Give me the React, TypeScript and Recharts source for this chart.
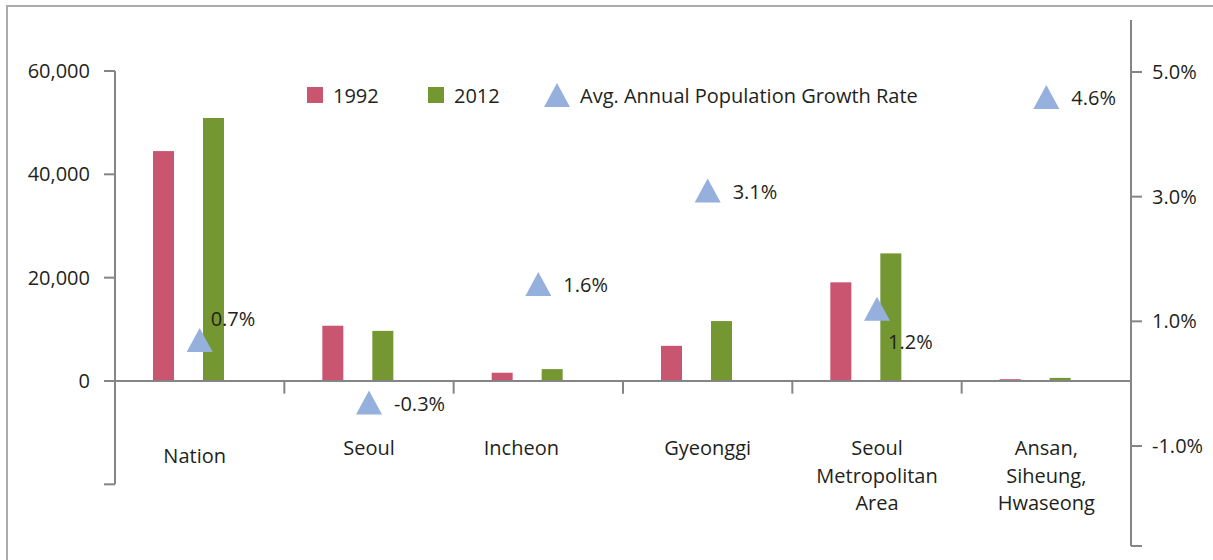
import React from "react";
import { ComposedChart, Bar, Scatter, XAxis, YAxis, ReferenceLine } from "recharts";

// values (population in thousands, growth in %)
const categories = [
  "Nation",
  "Seoul",
  "Incheon",
  "Gyeonggi",
  "Seoul\nMetropolitan\nArea",
  "Ansan,\nSiheung,\nHwaseong",
];
const pop1992 = [44500, 10700, 1600, 6800, 19100, 350];
const pop2012 = [50900, 9700, 2300, 11600, 24700, 600];
const growthRate = [0.7, -0.3, 1.6, 3.1, 1.2, 4.6];
const leftTicks = [-20000, 0, 20000, 40000, 60000];
const rightTicks = [-1, 1, 3, 5];
const seriesNames = ["1992", "2012", "Avg. Annual Population Growth Rate"];

const FONT = '"Open Sans", sans-serif';
const TEXT = "#231f20";
const AXIS = "#858585";
const PINK = "#c95571";
const GREEN = "#749732";
const BLUE = "#95b0dc";
const FS = 20;

// both axes share the plot height, so domains are stretched to line up zero
const LEFT_DOMAIN: [number, number] = [-31935, 69870];
const RIGHT_DOMAIN: [number, number] = [-2.604, 5.834];

const data = categories.map((name, i) => ({
  name,
  p1992: pop1992[i],
  p2012: pop2012[i],
  rate: growthRate[i],
  zero: 0,
}));

// bars sit a bit left of the category centre in the original
const ShiftedBar = (props: any) => {
  const { x, y, width, height, fill } = props;
  return <rect x={x - 11} y={y} width={width} height={height} fill={fill} />;
};

const trianglePoints = (cx: number, cy: number) =>
  `${cx},${cy - 12} ${cx - 13},${cy + 12} ${cx + 13},${cy + 12}`;

const RateMarker = (props: any) => {
  const { cx, cy, payload } = props;
  const label = `${payload.rate.toFixed(1)}%`;
  let lx = cx + 25;
  let ly = cy + 1;
  if (payload.name === "Nation") {
    lx = cx + 11;
    ly = cy - 22;
  } else if (payload.name.startsWith("Seoul\n")) {
    lx = cx + 11;
    ly = cy + 33;
  }
  return (
    <g>
      <polygon points={trianglePoints(cx, cy)} fill={BLUE} />
      <text
        x={lx}
        y={ly}
        fill={TEXT}
        fontSize={FS}
        fontFamily={FONT}
        dominantBaseline="central"
      >
        {label}
      </text>
    </g>
  );
};

// a couple of labels are set off-centre in the original
const labelNudge: Record<string, [number, number]> = {
  Nation: [-5, 8],
  Incheon: [-17, 0],
};

const CategoryLabel = (props: any) => {
  const { cx, cy, payload } = props;
  const lines = String(payload.name).split("\n");
  const [nx, ny] = labelNudge[payload.name] ?? [0, 0];
  return (
    <text
      textAnchor="middle"
      fill={TEXT}
      fontSize={FS}
      fontFamily={FONT}
      dominantBaseline="central"
    >
      {lines.map((line, i) => (
        <tspan key={i} x={cx + nx} y={cy + 66 + ny + i * 27.5}>
          {line}
        </tspan>
      ))}
    </text>
  );
};

function LegendBox() {
  const item: React.CSSProperties = {
    display: "flex",
    alignItems: "center",
    gap: 10,
  };
  return (
    <div
      style={{
        position: "absolute",
        left: 307,
        top: 82,
        height: 26,
        display: "flex",
        alignItems: "center",
        fontFamily: FONT,
        fontSize: FS,
        color: TEXT,
        whiteSpace: "nowrap",
      }}
    >
      <div style={{ ...item, width: 121 }}>
        <span style={{ width: 16, height: 16, background: PINK }} />
        <span>{seriesNames[0]}</span>
      </div>
      <div style={{ ...item, width: 116 }}>
        <span style={{ width: 16, height: 16, background: GREEN }} />
        <span>{seriesNames[1]}</span>
      </div>
      <div style={item}>
        <svg width={26} height={24}>
          <polygon points={trianglePoints(13, 12)} fill={BLUE} />
        </svg>
        <span>{seriesNames[2]}</span>
      </div>
    </div>
  );
}

export default function App() {
  const tickStyle = { fill: TEXT, fontSize: FS, fontFamily: FONT };
  return (
    <div
      style={{
        position: "absolute",
        left: 0,
        top: 0,
        width: 1213,
        height: 560,
        overflow: "hidden",
        background: "#fff",
      }}
    >
      {/* frame of the original figure */}
      <div
        style={{
          position: "absolute",
          left: 6,
          top: 5,
          width: 1230,
          height: 580,
          borderLeft: "2px solid #ababab",
          borderTop: "2px solid #ababab",
        }}
      />
      <ComposedChart
        width={1213}
        height={560}
        data={data}
        margin={{ top: 20, right: 0, bottom: 14, left: 15 }}
        barSize={21}
        barGap={29}
      >
        <XAxis dataKey="name" hide />
        <YAxis
          yAxisId="left"
          type="number"
          width={100}
          domain={LEFT_DOMAIN}
          ticks={leftTicks}
          interval={0}
          axisLine={false}
          tickLine={{ stroke: AXIS, strokeWidth: 2 }}
          tickSize={11}
          tickMargin={14}
          tick={tickStyle}
          tickFormatter={(v: number) => (v < 0 ? "" : v.toLocaleString("en-US"))}
        />
        <YAxis
          yAxisId="right"
          orientation="right"
          type="number"
          width={82}
          domain={RIGHT_DOMAIN}
          ticks={[RIGHT_DOMAIN[0], ...rightTicks]}
          interval={0}
          axisLine={{ stroke: AXIS, strokeWidth: 2 }}
          tickLine={{ stroke: AXIS, strokeWidth: 2 }}
          tickSize={11}
          tickMargin={10}
          tick={{ ...tickStyle, textAnchor: "start" }}
          tickFormatter={(v: number) => (v < -2 ? "" : `${v.toFixed(1)}%`)}
        />
        <ReferenceLine
          yAxisId="left"
          segment={[
            { x: categories[0], y: leftTicks[0] },
            { x: categories[0], y: leftTicks[leftTicks.length - 1] },
          ]}
          position="start"
          stroke={AXIS}
          strokeWidth={2}
        />
        <ReferenceLine yAxisId="left" y={0} stroke={AXIS} strokeWidth={2} />
        {categories.slice(1).map((c) => (
          <ReferenceLine
            key={c}
            yAxisId="left"
            segment={[
              { x: c, y: 0 },
              { x: c, y: -2450 },
            ]}
            position="start"
            stroke={AXIS}
            strokeWidth={2}
          />
        ))}
        <Bar
          yAxisId="left"
          dataKey="p1992"
          name={seriesNames[0]}
          fill={PINK}
          shape={ShiftedBar}
          isAnimationActive={false}
        />
        <Bar
          yAxisId="left"
          dataKey="p2012"
          name={seriesNames[1]}
          fill={GREEN}
          shape={ShiftedBar}
          isAnimationActive={false}
        />
        <Scatter
          yAxisId="left"
          dataKey="zero"
          shape={CategoryLabel}
          legendType="none"
          isAnimationActive={false}
        />
        <Scatter
          yAxisId="right"
          dataKey="rate"
          name={seriesNames[2]}
          shape={RateMarker}
          isAnimationActive={false}
        />
      </ComposedChart>
      <LegendBox />
    </div>
  );
}
